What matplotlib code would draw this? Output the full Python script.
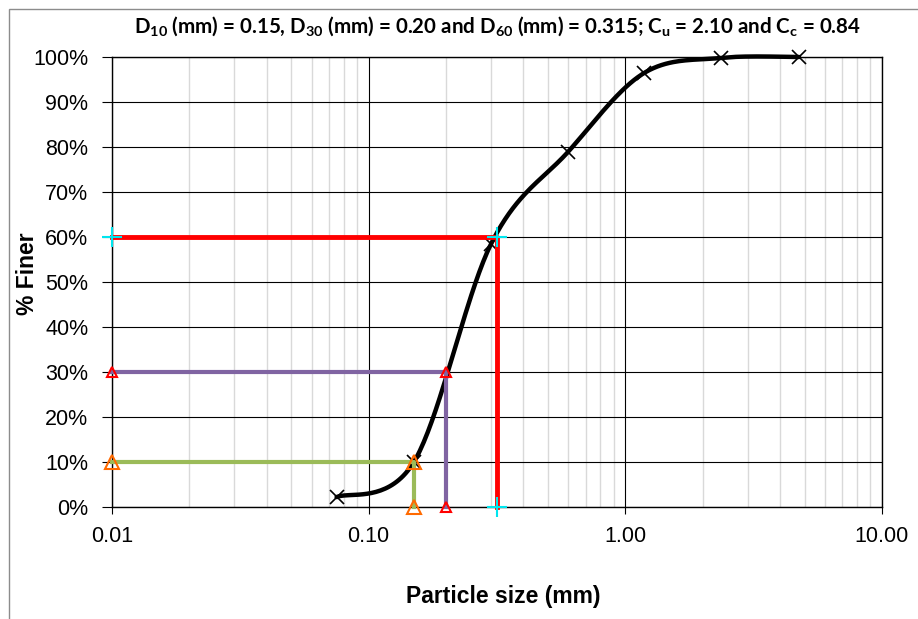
import numpy as np
import matplotlib
matplotlib.use('Agg')
import matplotlib.pyplot as plt
from matplotlib.patches import Rectangle
from matplotlib.ticker import FixedLocator, FuncFormatter, NullFormatter

# sieve analysis data
sieve_mm = [0.075, 0.15, 0.3, 0.6, 1.18, 2.36, 4.75]
pct_finer = [2.2, 10.0, 58.5, 79.0, 96.4, 99.8, 100.0]

# D10 / D30 / D60 construction lines
d10_x = [0.01, 0.15, 0.15]
d10_y = [10, 10, 0]
d30_x = [0.01, 0.20, 0.20]
d30_y = [30, 30, 0]
d60_x = [0.01, 0.315, 0.315]
d60_y = [60, 60, 0]

x_ticks = [0.01, 0.1, 1, 10]
y_ticks = list(range(0, 101, 10))

title = (r"D$_{\mathbf{10}}$ (mm) = 0.15, D$_{\mathbf{30}}$ (mm) = 0.20 and "
         r"D$_{\mathbf{60}}$ (mm) = 0.315; C$_{\mathbf{u}}$ = 2.10 and C$_{\mathbf{c}}$ = 0.84")


def excel_smooth(px, py, n=40):
    """Bezier smoothing in display space, like Excel's smoothed line."""
    pts = np.column_stack([px, py])
    P = np.vstack([pts[0], pts, pts[-1]])
    out = []
    t = np.linspace(0, 1, n)[:, None]
    for i in range(len(pts) - 1):
        p0, p1, p2, p3 = P[i], P[i + 1], P[i + 2], P[i + 3]
        c1 = p1 + (p2 - p0) / 6
        c2 = p2 - (p3 - p1) / 6
        seg = (1 - t)**3*p1 + 3*(1 - t)**2*t*c1 + 3*(1 - t)*t**2*c2 + t**3*p2
        out.append(seg if i == 0 else seg[1:])
    return np.vstack(out)


plt.rcParams['font.family'] = ['Liberation Sans', 'DejaVu Sans']
plt.rcParams['mathtext.fontset'] = 'custom'
plt.rcParams['mathtext.rm'] = 'Lato'
plt.rcParams['mathtext.bf'] = 'Lato:bold'

W, H = 918, 619
fig = plt.figure(figsize=(W/100, H/100), dpi=100)
ax = fig.add_axes([112/W, (H-507)/H, 770/W, 450/H])

ax.set_xscale('log')
ax.set_xlim(0.01, 10)
ax.set_ylim(0, 100)

# grid
ax.xaxis.set_major_locator(FixedLocator(x_ticks))
ax.xaxis.set_minor_locator(FixedLocator([m*10.0**e for e in range(-2, 1) for m in range(2, 10)]))
ax.xaxis.set_minor_formatter(NullFormatter())
ax.xaxis.set_major_formatter(FuncFormatter(lambda v, p: f"{v:.2f}"))
ax.yaxis.set_major_locator(FixedLocator(y_ticks))
ax.yaxis.set_major_formatter(FuncFormatter(lambda v, p: f"{v:.0f}%"))
ax.grid(which='minor', axis='x', color='#d9d9d9', lw=1.0)
ax.grid(which='major', color='black', lw=0.8)
ax.set_axisbelow(True)
for s in ax.spines.values():
    s.set_linewidth(1.0)
ax.tick_params(which='minor', length=0)
ax.tick_params(axis='x', which='major', length=5, width=0.8, pad=9, labelsize=15.5, direction='out')
ax.tick_params(axis='y', which='major', length=7, width=0.8, pad=10, labelsize=15.5, direction='out')

# smoothed grading curve
disp = ax.transData.transform(np.column_stack([sieve_mm, pct_finer]))
curve = ax.transData.inverted().transform(excel_smooth(disp[:, 0], disp[:, 1]))
ax.plot(curve[:, 0], curve[:, 1], color='black', lw=3.2, solid_capstyle='round', zorder=3, clip_on=False)
ax.plot(sieve_mm, pct_finer, ls='none', marker='x', ms=10, mew=1.2, color='black', zorder=3, clip_on=False)

# construction lines
ax.plot(d10_x, d10_y, color='#9bbb59', lw=3, zorder=4, clip_on=False,
        marker='^', ms=10, mfc='none', mec='#ff6a00', mew=1.5)
ax.plot(d30_x, d30_y, color='#8064a2', lw=3, zorder=4, clip_on=False,
        marker='^', ms=7, mfc='none', mec='#ff0000', mew=1.5)
ax.plot(d60_x, d60_y, color='#ff0000', lw=3.5, zorder=5, clip_on=False,
        marker='+', ms=14, mew=1.5, mec='#00e5ee')

ax.set_xlabel('Particle size (mm)', fontsize=16.5, fontweight='bold', va='center')
ax.set_ylabel('% Finer', fontsize=16.5, fontweight='bold', va='center')
ax.xaxis.set_label_coords((503-112)/770, -(597-507)/450)
ax.yaxis.set_label_coords(-(112-27)/770, (507-274)/450)

# title fitted to the reference width
t = fig.text(497/W, (H-33)/H, title, ha='center', va='baseline',
             fontsize=14, fontweight='bold', family=['Lato', 'DejaVu Sans'])
fig.canvas.draw()
bw = t.get_window_extent().width
t.set_fontsize(14*729/bw)

# outer chart border
fig.patches.append(Rectangle((8.5/W, -0.05), 1.2, (H-8.5)/H + 0.05, transform=fig.transFigure,
                             fill=False, edgecolor='#8c8c8c', lw=1.0, clip_on=False))

fig.savefig('out.png', dpi=100)
